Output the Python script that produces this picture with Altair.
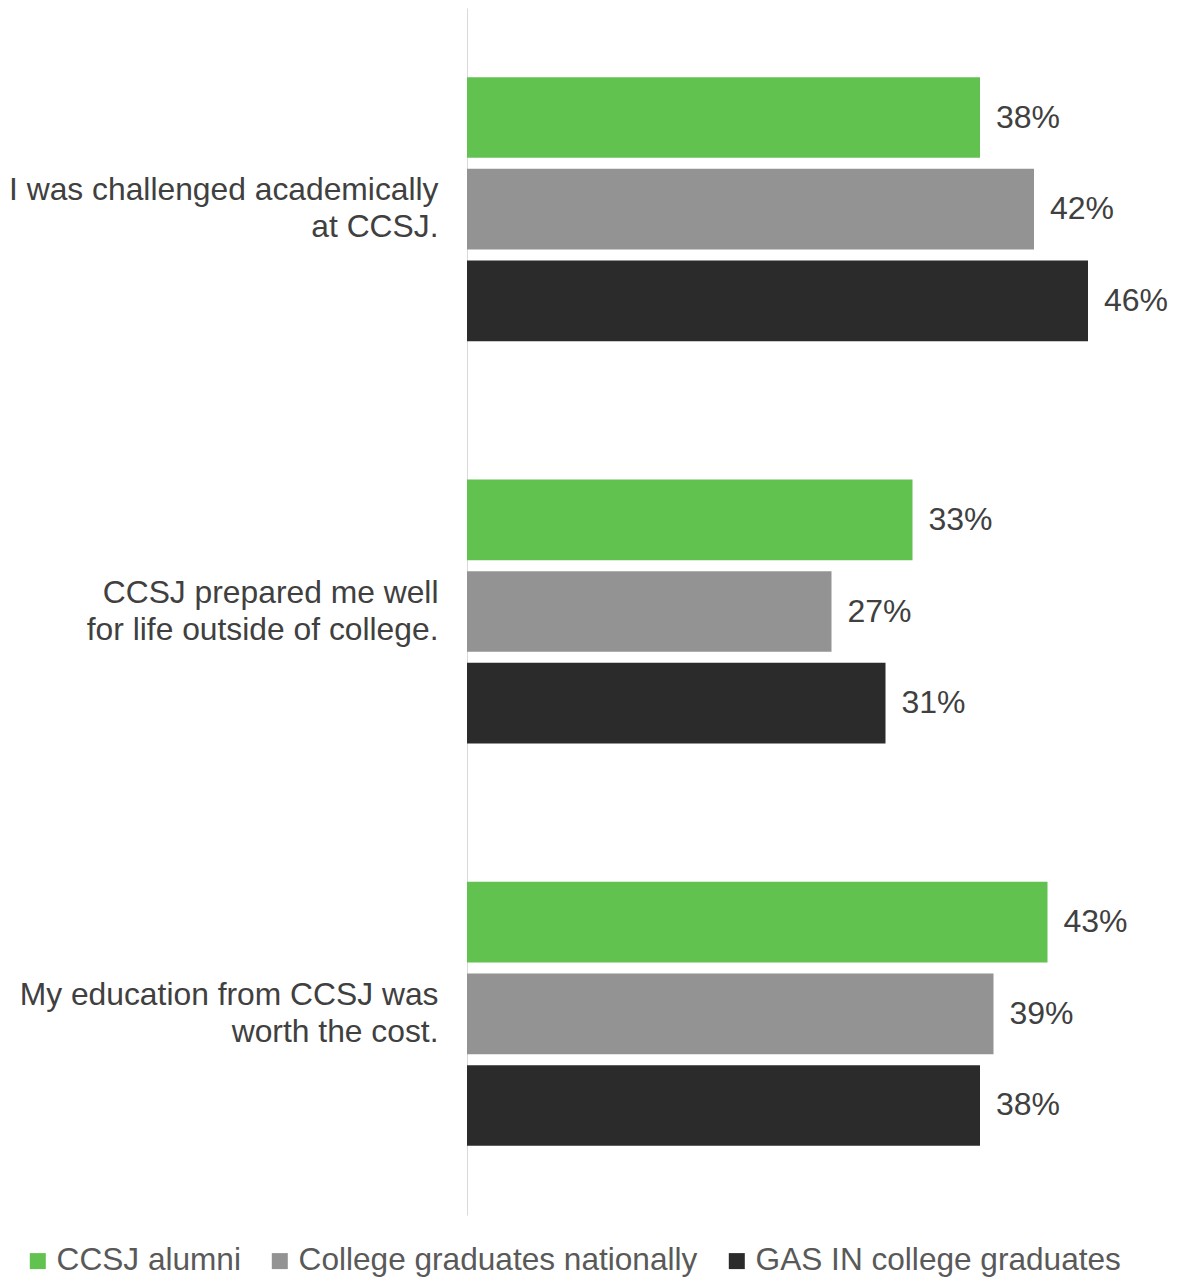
import altair as alt
import pandas as pd

categories = [
    "I was challenged academically|at CCSJ.",
    "CCSJ prepared me well|for life outside of college.",
    "My education from CCSJ was|worth the cost.",
]
series = ["CCSJ alumni", "College graduates nationally", "GAS IN college graduates"]
ccsj_alumni = [38, 33, 43]
college_nationally = [42, 27, 39]
gas_in = [46, 31, 38]
colors = ["#62C250", "#939393", "#2B2B2B"]

rows = []
for i, cat in enumerate(categories):
    for s, vals in zip(series, [ccsj_alumni, college_nationally, gas_in]):
        rows.append({"category": cat, "series": s, "value": vals[i]})
df = pd.DataFrame(rows)

FONT = "Liberation Sans"

y_enc = alt.Y(
    "category:N",
    sort=categories,
    scale=alt.Scale(paddingInner=0.344, paddingOuter=0.172),
    axis=alt.Axis(
        title=None,
        labelExpr="split(datum.label, '|')",
        labelFont=FONT,
        labelFontSize=31.8,
        labelColor="#404040",
        labelLineHeight=37,
        labelPadding=29,
        labelOffset=-19,
        labelLimit=600,
        ticks=False,
        tickSize=0,
        domainColor="#D9D9D9",
        domainWidth=1,
        grid=False,
    ),
)
yoff_enc = alt.YOffset(
    "series:N",
    sort=series,
    scale=alt.Scale(paddingInner=0.12, paddingOuter=0),
)
x_enc = alt.X(
    "value:Q",
    scale=alt.Scale(domain=[0, 50], nice=False),
    axis=None,
)

bars = alt.Chart(df).mark_bar().encode(
    x=x_enc,
    y=y_enc,
    yOffset=yoff_enc,
    color=alt.Color(
        "series:N",
        sort=series,
        scale=alt.Scale(domain=series, range=colors),
        legend=alt.Legend(
            title=None,
            orient="none",
            legendX=-445,
            legendY=1237,
            direction="horizontal",
            symbolType="square",
            symbolSize=256,
            symbolStrokeWidth=0,
            symbolOpacity=1,
            labelFont=FONT,
            labelFontSize=31.6,
            labelColor="#595959",
            labelOffset=3,
            columnPadding=23,
            labelLimit=600,
        ),
    ),
)

labels = alt.Chart(df).transform_calculate(
    label="datum.value + '%'"
).mark_text(
    align="left", baseline="middle", dx=16, font=FONT, fontSize=32, color="#404040"
).encode(
    x=x_enc,
    y=alt.Y("category:N", sort=categories),
    yOffset=alt.YOffset("series:N", sort=series),
    text="label:N",
)

chart = alt.layer(bars, labels).properties(
    width=675,
    height=1207,
    background="white",
    autosize=alt.AutoSizeParams(type="none"),
    padding={"left": 459, "top": 0, "right": 31, "bottom": 70},
).configure_view(stroke="transparent", strokeWidth=0)

chart.save("out.html", embed_options={"renderer": "svg", "actions": False})
